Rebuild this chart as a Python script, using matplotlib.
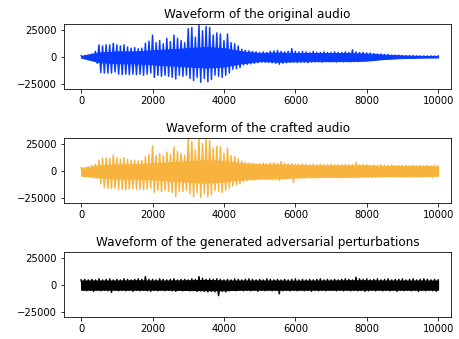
import matplotlib
matplotlib.use('Agg')
import matplotlib.pyplot as plt
import numpy as np

# sample positions (every 100 samples) of the peak readings
positions = np.arange(0, 10001, 100)
# sample positions (every 500 samples) of the dense-band readings
core_positions = np.arange(0, 10001, 500)

# peak values, in thousands
original_up = [1, 1, 1.5, 2.5, 5, 11, 10, 11, 11, 12.5,
               11, 10, 11, 9, 8, 8.5, 7.5, 8, 12.5, 14.5,
               20, 13, 15, 12, 17, 14, 20, 17, 15, 13,
               26, 27, 18, 29.5, 24, 28, 27, 20, 22, 21,
               15, 21, 13, 12, 10, 7, 6, 5.5, 5, 4.5,
               4, 4.5, 4, 5, 5.5, 6, 5, 4.5, 5, 7.5,
               5, 4.5, 5, 4.5, 4, 5, 4, 4, 4.5, 4,
               4, 4.5, 4, 4, 4.5, 4, 6.5, 4.5, 4, 4,
               3.5, 3.5, 3, 2.5, 2.5, 2, 2, 1.5, 1.5, 1.5,
               1.2, 1, 1, 1, 0.8, 0.8, 0.8, 0.8, 0.8, 0.8, 0.8]
original_lo = [-1, -1, -1.5, -2.5, -6, -14.5, -15, -15, -15, -14,
               -16, -16.5, -16, -16.5, -16, -16.5, -16, -17, -16, -15,
               -19, -17, -18, -17, -18, -19, -20.5, -17, -18, -17,
               -20, -22, -19, -23.5, -20, -23, -21, -17, -18, -19,
               -17, -15, -11.5, -11, -10, -7.5, -7, -6.5, -6, -5.5,
               -5, -5, -5, -5.5, -6, -6.8, -6, -5.5, -5, -5,
               -5.2, -5, -5, -5.5, -4.8, -4.6, -4.6, -5, -4.5, -4.6,
               -4.5, -4.8, -4.3, -4.5, -4.2, -4.5, -4.3, -4.5, -4, -4,
               -3.5, -3.5, -3, -2.5, -2.5, -2, -2, -1.5, -1.5, -1.5,
               -1.2, -1, -1, -1, -0.8, -0.8, -0.8, -0.8, -0.8, -0.8, -0.8]
original_core_up = [0.8, 4, 5, 5, 6, 7, 8, 9, 8, 5, 3.5,
                    4, 3.5, 3.5, 3.5, 3.5, 3, 2, 1.2, 0.8, 0.6]
original_core_lo = [-0.8, -5, -6, -6, -7, -8, -9, -10, -9, -6, -4,
                    -4.5, -4.2, -4, -4, -4, -3.5, -2, -1.2, -0.8, -0.6]

crafted_up = [3, 3, 3.5, 5, 6, 10, 11.5, 12, 11.5, 14.5,
              12, 11, 12, 10.5, 9.5, 10, 9, 9.5, 13, 15,
              23, 14, 16, 14, 17, 15, 22, 18, 16, 14,
              29.5, 27, 19, 29.5, 25, 29, 28, 21, 22.5, 22,
              16, 21, 14, 13, 11, 9, 8, 7, 7, 6.5,
              7, 7, 6.5, 7, 7.5, 7, 8.5, 7, 6.5, 6.5,
              6, 6, 6.5, 6, 5.5, 6, 5.5, 6, 5.5, 5.5,
              6, 5.5, 5.5, 5.5, 6, 5.5, 6, 8, 5.5, 5.5,
              5.5, 5, 5.5, 5, 5.5, 5, 5, 5.5, 5, 5,
              5, 5, 4.5, 5, 4.5, 5, 4.5, 5, 4.5, 5, 4.5]
crafted_lo = [-5, -5, -5.5, -6.5, -7, -12, -15.5, -16, -16.5, -16,
              -17, -17, -17.5, -17, -16.5, -17, -17, -17.5, -17, -16,
              -20, -18, -19, -18, -19, -20, -23.5, -19, -19, -18,
              -21, -24, -20, -24.5, -21, -24, -22, -18, -19, -20,
              -18, -16, -14, -13, -12, -10, -9, -8.5, -8.5, -8,
              -8, -8, -8, -8.5, -8, -9, -8, -7.5, -7, -10.8,
              -7, -7, -6.8, -6.5, -6.5, -6.8, -6.5, -6.5, -6.5, -6.5,
              -6.2, -6.5, -6.5, -6, -6.5, -6, -6, -6.5, -6, -6,
              -6, -5.8, -6, -5.8, -5.5, -6, -5.5, -5.8, -5.5, -6,
              -5.5, -5.5, -5.8, -5.5, -5.5, -6, -5.5, -5.5, -6, -5.5, -5]
crafted_core_up = [2.5, 5, 6, 6, 7, 8, 9, 10, 9, 7, 6,
                   6, 5.5, 5, 5, 5, 5, 4.5, 4.5, 4.5, 4]
crafted_core_lo = [-4.5, -6, -7, -7, -8, -9, -10, -11, -10, -8, -7,
                   -7, -6, -5.5, -5.5, -5.5, -5.2, -5, -5, -5, -4.5]

perturb_up = [4.5, 5, 4.5, 5, 4.5, 5.5, 4.5, 5, 5.5, 4.5,
              5, 4.5, 5.5, 5, 4.5, 5, 5.5, 5, 7.5, 5,
              5, 4.5, 5.5, 5, 4.5, 5, 5.5, 4.5, 5, 5,
              4.5, 5.5, 5, 7.5, 6, 5, 5.5, 5, 5.5, 5,
              4.5, 5, 4.5, 5.5, 5, 4.5, 5, 5.5, 5, 4.5,
              5, 4.5, 5.5, 5, 4.5, 5, 4.5, 5, 4.5, 5,
              5.5, 4.5, 5, 4.5, 5, 4.5, 5, 5.5, 4.5, 5,
              4.5, 5, 4.5, 5, 5.5, 5, 4.5, 7, 5.5, 5,
              5.5, 4.5, 5, 5.5, 4.5, 5, 5.5, 4.5, 5, 5,
              5.5, 4.5, 5, 5.5, 4.5, 5, 5.5, 5, 4.5, 5, 4.5]
perturb_lo = [-5, -5.5, -5, -6, -5, -5.5, -5, -5.5, -7, -5,
              -5.5, -5, -5.5, -5, -6, -5, -5.5, -5, -5.5, -6,
              -5, -5.5, -5, -5.5, -5, -5.5, -6, -5, -5.5, -5,
              -5.5, -5, -6, -5.5, -6, -6.5, -6, -6.5, -10, -6,
              -6.5, -5.5, -5, -5.5, -5, -5.5, -5, -5.5, -5, -6,
              -5, -5.5, -5, -5.5, -5, -8.3, -5.5, -5, -5.5, -5,
              -5.5, -5, -5.5, -5, -6, -5, -5.5, -5, -5.5, -5,
              -5, -5.5, -5, -5.5, -5, -5.5, -5, -5.5, -5, -6,
              -5.5, -5, -5.5, -5, -5.5, -5, -5.5, -5, -6, -5,
              -5.5, -5, -5.5, -5, -6, -5, -5.5, -5, -5.5, -6, -5.5]
perturb_core_up = [4, 4, 4, 4.2, 4, 4, 4.2, 4.5, 4, 4, 4,
                   4, 3.8, 4, 4, 4.2, 4.2, 4, 4, 4, 4]
perturb_core_lo = [-4.5, -4.5, -4.5, -4.5, -4.5, -4.5, -4.8, -5, -5, -4.5, -4.5,
                   -4.5, -4.5, -4.5, -4.5, -4.5, -4.5, -4.5, -4.5, -4.5, -4.5]

titles = ['Waveform of the original audio',
          'Waveform of the crafted audio',
          'Waveform of the generated adversarial perturbations']
colors = ['#0a3cff', '#f7b33d', 'black']


def zigzag(up, lo):
    # alternate positive and negative peaks, like the oscillating signal
    xs = np.column_stack([positions, positions + 50]).ravel()[:-1]
    ys = np.column_stack([up, lo]).ravel()[:-1]
    return xs, ys


fig = plt.figure(figsize=(459 / 72, 339 / 72), dpi=72)
bottoms = [0.7366, 0.4003, 0.064]
series = [(original_up, original_lo, original_core_up, original_core_lo),
          (crafted_up, crafted_lo, crafted_core_up, crafted_core_lo),
          (perturb_up, perturb_lo, perturb_core_up, perturb_core_lo)]

for b, (up, lo, cup, clo), title, c in zip(bottoms, series, titles, colors):
    ax = fig.add_axes([64 / 459, b, 387 / 459, 65 / 339])
    up = np.array(up) * 1000
    lo = np.array(lo) * 1000
    ax.fill_between(core_positions, np.array(clo) * 1000, np.array(cup) * 1000,
                    color=c, linewidth=1.0, edgecolor=c)
    xs, ys = zigzag(up, lo)
    ax.plot(xs, ys, color=c, linewidth=1.5)
    ax.set_xlim(-480, 10360)
    ax.set_ylim(-30000, 30000)
    ax.set_yticks([-25000, 0, 25000])
    ax.set_xticks([0, 2000, 4000, 6000, 8000, 10000])
    ax.tick_params(labelsize=10)
    ax.set_title(title, fontsize=12)

plt.savefig('out.png', dpi=72)
